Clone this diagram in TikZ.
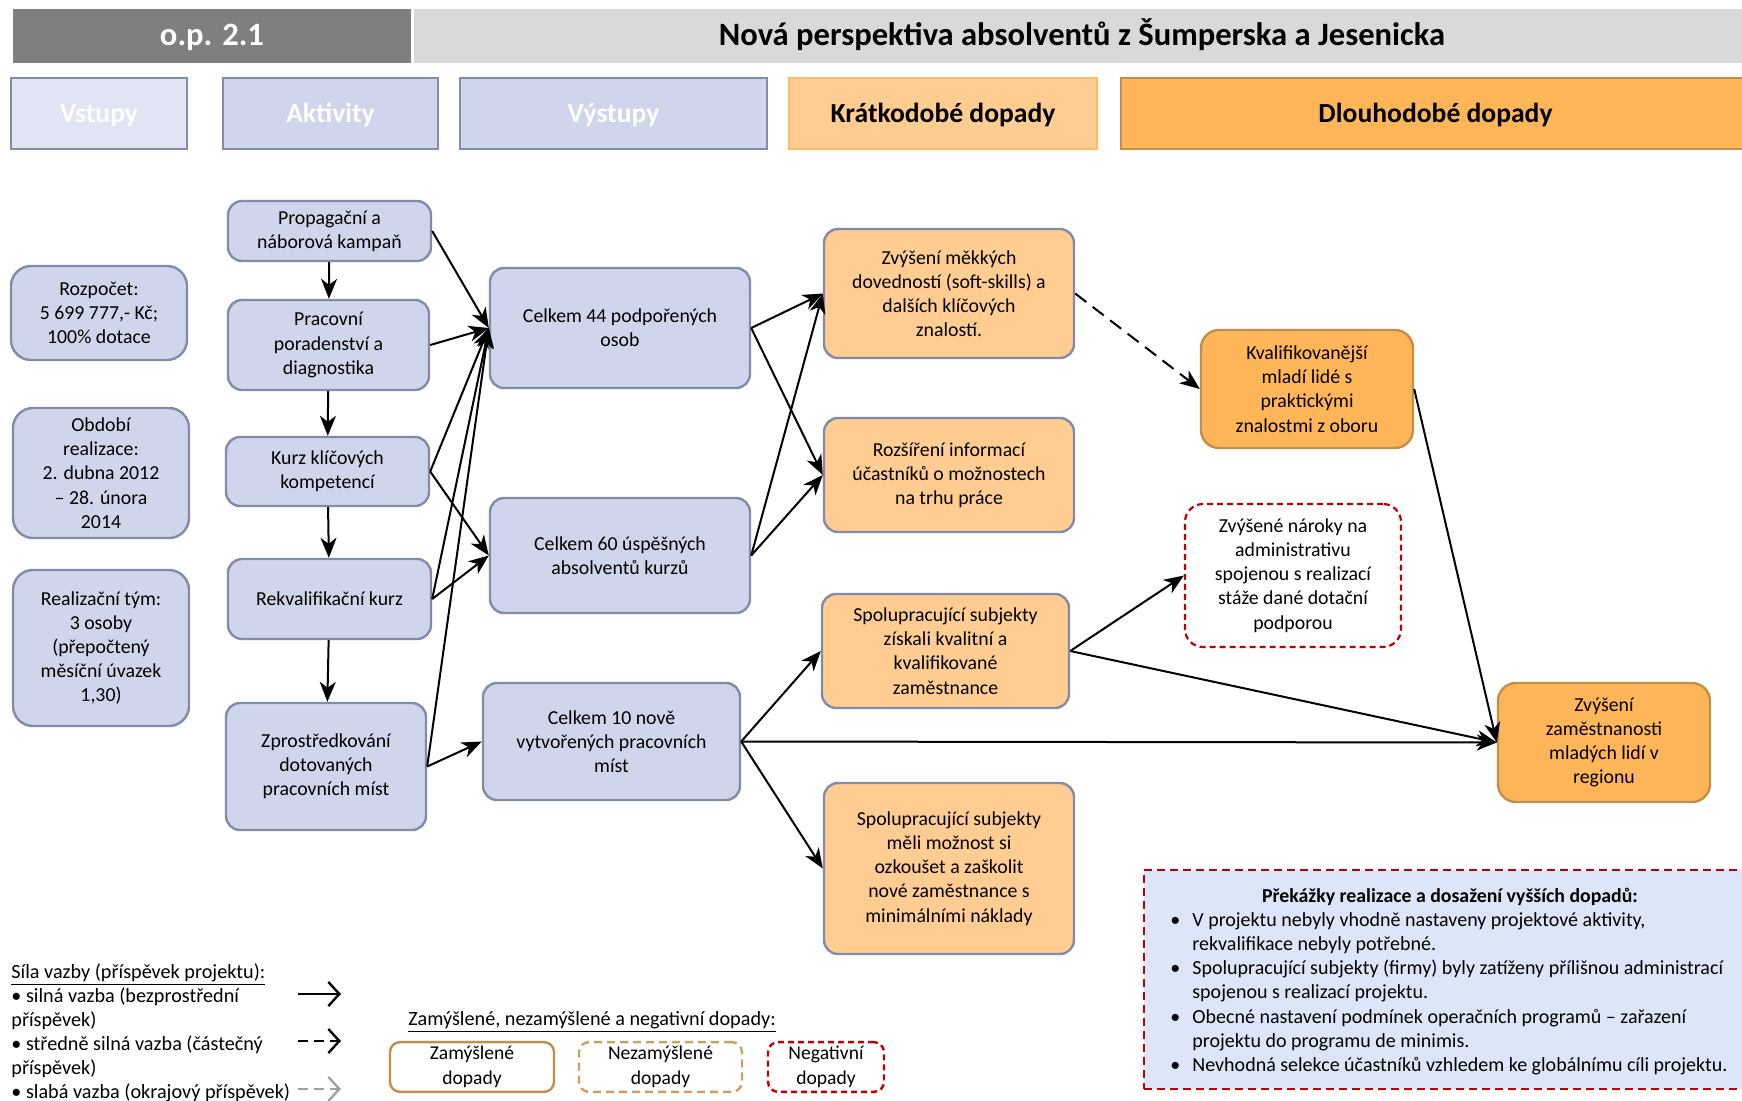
\documentclass[tikz,border=0pt]{standalone}
\usepackage{fontspec}
\setmainfont{Carlito}
\usetikzlibrary{arrows.meta}
\definecolor{headdark}{RGB}{127,127,127}
\definecolor{headlight}{RGB}{217,217,217}
\definecolor{bluefill}{RGB}{207,213,234}
\definecolor{bluepale}{RGB}{225,229,243}
\definecolor{blueline}{RGB}{130,139,168}
\definecolor{shortfill}{RGB}{255,204,145}
\definecolor{shortline}{RGB}{255,186,100}
\definecolor{longfill}{RGB}{255,182,88}
\definecolor{longline}{RGB}{196,142,72}
\definecolor{unintline}{RGB}{205,160,95}
\definecolor{negred}{RGB}{192,0,0}
\definecolor{barrierfill}{RGB}{220,230,248}
\definecolor{weakgray}{RGB}{160,160,160}

\begin{document}
\begin{tikzpicture}[x=0.5pt,y=-0.5pt,
    txt/.style={font=\fontsize{9.9}{12.1}\selectfont, align=center, inner sep=2pt},
    titlebar/.style={font=\bfseries\fontsize{16.3}{19}\selectfont, minimum height=27pt,
      text height=13pt, text depth=3.5pt},
    colhead/.style={draw=blueline, line width=1.2pt, minimum height=35.5pt,
      font=\bfseries\fontsize{13.8}{16}\selectfont, text height=12pt, text depth=2.8pt},
    inputbox/.style={txt, rounded corners=10pt, draw=blueline, fill=bluefill,
      line width=1.2pt, minimum width=88pt},
    activity/.style={txt, rounded corners=7pt, draw=blueline, fill=bluefill, line width=1.2pt},
    outputbox/.style={activity},
    shortterm/.style={activity, fill=shortfill},
    longterm/.style={txt, rounded corners=9pt, draw=longline, fill=longfill, line width=1.2pt},
    negbox/.style={txt, rounded corners=9pt, draw=negred, line width=1.1pt,
      dash pattern=on 3pt off 2pt},
    link/.style={line width=1pt, -{Stealth[length=10pt,width=8pt,inset=3pt]}},
    partlink/.style={link, dash pattern=on 7pt off 4pt},
    legendarrow/.style={line width=1.2pt, -{Straight Barb[length=5.5pt,width=12pt]}},
    legendbox/.style={txt, font=\fontsize{9.8}{12.5}\selectfont, line width=1.2pt,
      rounded corners=5pt, minimum height=24pt}]

  \useasboundingbox (0,0) rectangle (1742,1100);

  % header
  \node[titlebar, fill=headdark, text=white, minimum width=199pt] (op) at (212,36) {o.p. 2.1};
  \node[titlebar, fill=headlight, minimum width=668pt] (title) at (1082,36)
    {Nová perspektiva absolventů z Šumperska a Jesenicka};

  \node[colhead, fill=bluepale, text=white, minimum width=88pt] (hinputs) at (99,113.5) {Vstupy};
  \node[colhead, fill=bluefill, text=white, minimum width=107.5pt] (hactivities) at (330.5,113.5) {Aktivity};
  \node[colhead, fill=bluefill, text=white, minimum width=153.5pt] (houtputs) at (613.5,113.5) {Výstupy};
  \node[colhead, fill=shortfill, draw=shortline, minimum width=154pt] (hshort) at (943,113.5) {Krátkodobé dopady};
  \node[colhead, fill=longfill, draw=longline, minimum width=314.5pt] (hlong) at (1435.5,113.5) {Dlouhodobé dopady};

  % inputs
  \node[inputbox, minimum height=47pt] (budget) at (99,313) {Rozpočet:\\5 699 777,- Kč;\\100\% dotace};
  \node[inputbox, minimum height=65pt] (period) at (101,473) {Období\\realizace:\\2. dubna 2012\\– 28. února\\2014};
  \node[inputbox, minimum height=78pt] (team) at (101,648) {Realizační tým:\\3 osoby\\(přepočtený\\měsíční úvazek\\1,30)};

  % activities
  \node[activity, minimum width=101.5pt, minimum height=30pt] (campaign) at (329.5,231) {Propagační a\\náborová kampaň};
  \node[activity, minimum width=100.5pt, minimum height=45pt] (counsel) at (328.5,345) {Pracovní\\poradenství a\\diagnostika};
  \node[activity, minimum width=101.5pt, minimum height=34.5pt] (keycourse) at (327.5,471.5) {Kurz klíčových\\kompetencí};
  \node[activity, minimum width=101.5pt, minimum height=40pt] (requal) at (329.5,599) {Rekvalifikační kurz};
  \node[activity, minimum width=100pt, minimum height=63.5pt] (placement) at (326,766.5) {Zprostředkování\\dotovaných\\pracovních míst};

  % outputs
  \node[outputbox, minimum width=130pt, minimum height=60pt] (supported) at (620,328) {Celkem 44 podpořených\\osob};
  \node[outputbox, minimum width=130pt, minimum height=57.5pt] (graduates) at (620,555.5) {Celkem 60 úspěšných\\absolventů kurzů};
  \node[outputbox, minimum width=128.5pt, minimum height=58.5pt] (jobs) at (611.5,741.5) {Celkem 10 nově\\vytvořených pracovních\\míst};

  % short-term impacts
  \node[shortterm, minimum width=125pt, minimum height=64.5pt] (softskills) at (949,293.5) {Zvýšení měkkých\\dovedností (soft-skills) a\\dalších klíčových\\znalostí.};
  \node[shortterm, minimum width=125pt, minimum height=57pt] (info) at (949,475) {Rozšíření informací\\účastníků o možnostech\\na trhu práce};
  \node[shortterm, minimum width=123.5pt, minimum height=57pt] (employees) at (945.5,651) {Spolupracující subjekty\\získali kvalitní a\\kvalifikované\\zaměstnance};
  \node[shortterm, minimum width=125pt, minimum height=85.5pt] (tryout) at (949,868.5) {Spolupracující subjekty\\měli možnost si\\ozkoušet a zaškolit\\nové zaměstnance s\\minimálními náklady};

  % long-term impacts
  \node[longterm, minimum width=106pt, minimum height=59pt] (qualified) at (1307,389) {Kvalifikovanější\\mladí lidé s\\praktickými\\znalostmi z oboru};
  \node[negbox, minimum width=108pt, minimum height=71.5pt] (admin) at (1293,575.5) {Zvýšené nároky na\\administrativu\\spojenou s realizací\\stáže dané dotační\\podporou};
  \node[longterm, minimum width=106pt, minimum height=59.5pt] (employment) at (1604,742.5) {Zvýšení\\zaměstnanosti\\mladých lidí v\\regionu};

  % links
  \draw[link] (campaign) to (counsel);
  \draw[link] (counsel) to (keycourse);
  \draw[link] (keycourse) to (requal);
  \draw[link] (requal) to (placement);

  \draw[link] (campaign.east) to (supported.west);
  \draw[link] (counsel.east) to (supported.west);
  \draw[link] (keycourse.east) to (supported.west);
  \draw[link] (keycourse.east) to (graduates.west);
  \draw[link] (requal.east) to (supported.west);
  \draw[link] (requal.east) to (graduates.west);
  \draw[link] (placement.east) to (supported.west);
  \draw[link] (placement.east) to (jobs.west);

  \draw[link] (supported.east) to (softskills.west);
  \draw[link] (supported.east) to (info.west);
  \draw[link] (graduates.east) to (softskills.west);
  \draw[link] (graduates.east) to (info.west);
  \draw[link] (jobs.east) to (employees.west);
  \draw[link] (jobs.east) to (employment.west);
  \draw[link] (jobs.east) to (tryout.west);

  \draw[partlink] (softskills.east) to (qualified.west);
  \draw[link] (employees.east) to (admin.west);
  \draw[link] (employees.east) to (employment.west);
  \draw[link] (qualified.east) to (employment.west);

  % barriers
  \node[draw=negred, fill=barrierfill, line width=1.1pt, dash pattern=on 4pt off 2.5pt,
    minimum width=308pt, minimum height=109.5pt] (barriers) at (1452,979.5) {};
  \node[font=\bfseries\fontsize{9.9}{12}\selectfont] (barrierhead) at (1450,897)
    {Překážky realizace a dosažení vyšších dopadů:};
  \node[anchor=north west, inner sep=0pt, font=\fontsize{10}{12.1}\selectfont] (barrierlist) at (1170,909) {%
    \begin{tabular}{@{}p{7pt}@{\hspace{4pt}}l@{}}
      \textbullet & V projektu nebyly vhodně nastaveny projektové aktivity,\\
                  & rekvalifikace nebyly potřebné.\\
      \textbullet & Spolupracující subjekty (firmy) byly zatíženy přílišnou administrací\\
                  & spojenou s realizací projektu.\\
      \textbullet & Obecné nastavení podmínek operačních programů – zařazení\\
                  & projektu do programu de minimis.\\
      \textbullet & Nevhodná selekce účastníků vzhledem ke globálnímu cíli projektu.
    \end{tabular}};

  % legend
  \node[anchor=north west, inner sep=0pt, align=left, font=\fontsize{10.1}{12}\selectfont] (strength) at (11,963)
    {\underline{Síla vazby (příspěvek projektu):}\\
     • silná vazba (bezprostřední\\
     příspěvek)\\
     • středně silná vazba (částečný\\
     příspěvek)\\
     • slabá vazba (okrajový příspěvek)};
  \coordinate (strongA) at (298,994);   \coordinate (strongB) at (341,994);
  \coordinate (mediumA) at (298,1041);  \coordinate (mediumB) at (341,1041);
  \coordinate (weakA) at (298,1089);    \coordinate (weakB) at (341,1089);
  \draw[legendarrow] (strongA) to (strongB);
  \draw[legendarrow, dash pattern=on 5pt off 3pt] (mediumA) to (mediumB);
  \draw[legendarrow, weakgray, dash pattern=on 5pt off 3pt] (weakA) to (weakB);

  \node[font=\fontsize{10.1}{12}\selectfont] (kinds) at (592,1022)
    {\underline{Zamýšlené, nezamýšlené a negativní dopady:}};
  \node[legendbox, draw=longline, minimum width=82pt] (intended) at (472,1067) {Zamýšlené\\dopady};
  \node[legendbox, draw=unintline, dash pattern=on 4pt off 2.5pt, minimum width=81.5pt] (unintended) at (660.5,1067) {Nezamýšlené\\dopady};
  \node[legendbox, draw=negred, dash pattern=on 3pt off 2pt, minimum width=58pt] (negative) at (826,1067) {Negativní\\dopady};
\end{tikzpicture}
\end{document}
